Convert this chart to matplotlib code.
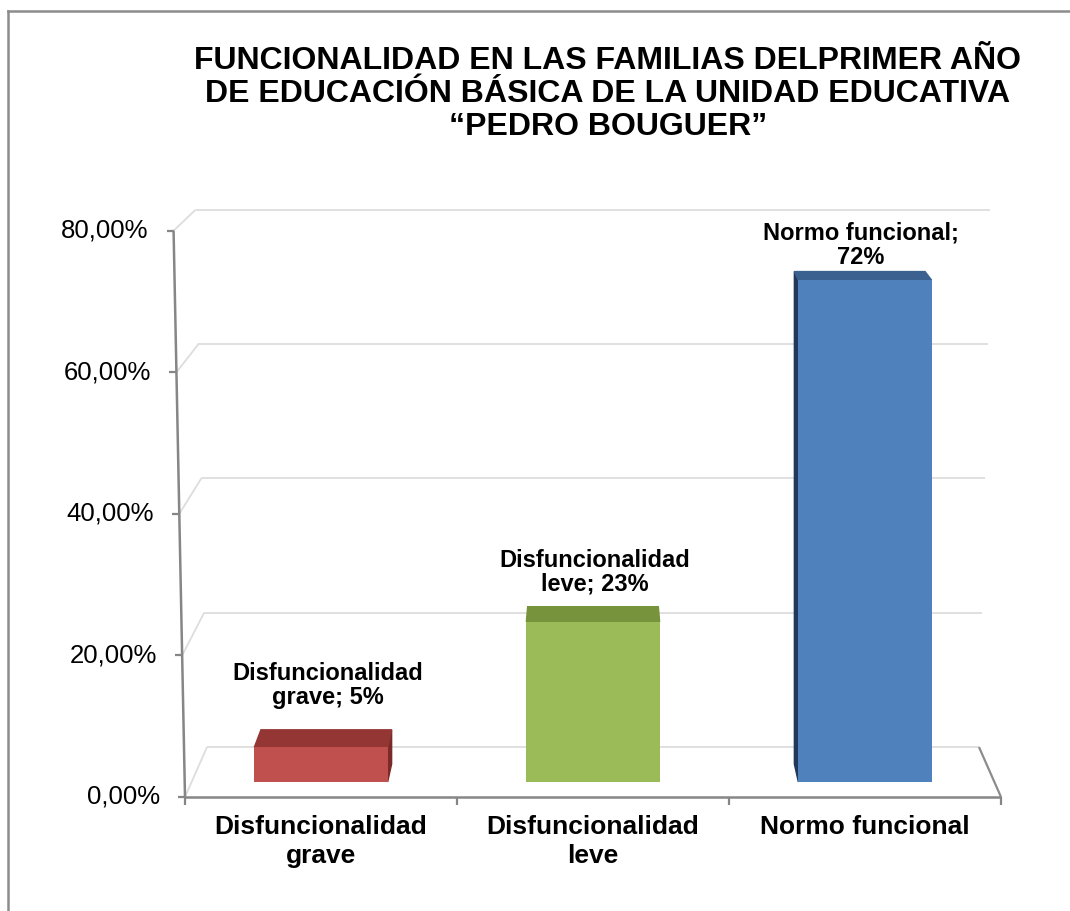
import matplotlib.pyplot as plt
from matplotlib.patches import Polygon
from matplotlib.lines import Line2D

plt.rcParams['font.family'] = ['Liberation Sans', 'DejaVu Sans']

# datos
categorias = ['Disfuncionalidad\ngrave', 'Disfuncionalidad\nleve', 'Normo funcional']
etiquetas = ['Disfuncionalidad\ngrave; 5%', 'Disfuncionalidad\nleve; 23%', 'Normo funcional;\n72%']
valores = [0.05, 0.23, 0.72]
ticks = [0.0, 0.2, 0.4, 0.6, 0.8]
tick_labels = ['0,00%', '20,00%', '40,00%', '60,00%', '80,00%']

colores = ['#C0504D', '#9BBB59', '#4F81BD']
colores_top = ['#943634', '#77933C', '#3B6190']
colores_lado = ['#7A2B29', '#5E7530', '#22385A']
label_dy = [15, 8, 2]   # desplazamiento de las etiquetas (pt)

titulo = ('FUNCIONALIDAD EN LAS FAMILIAS DELPRIMER AÑO\n'
          'DE EDUCACIÓN BÁSICA DE LA UNIDAD EDUCATIVA\n'
          '\u201cPEDRO BOUGUER\u201d')

W, H = 1070, 911
fig = plt.figure(figsize=(W / 100, H / 100), dpi=100)

# marco del gráfico (solo arriba e izquierda visibles)
fig.lines.append(Line2D([8 / W, 8 / W], [0, 1 - 11 / H], transform=fig.transFigure,
                        color='#8C8C8C', lw=1.8))
fig.lines.append(Line2D([8 / W, 1], [1 - 11 / H, 1 - 11 / H], transform=fig.transFigure,
                        color='#8C8C8C', lw=1.8))

ax = fig.add_axes([185 / W, (H - 782) / H, 816 / W, 0.8 * 697 / H])
ax.set_xlim(-0.5, 2.5)
ax.set_ylim(0, 0.8)
ax.axis('off')


# proyección pseudo 3D: d = profundidad (-0.3 frente, 0.7 fondo)
def proj(x, v, d):
    y = 0.0717 * d + v * (1 - 0.052 * d)
    h = 1 - 0.054 * (d + 0.3) + 0.035 * v
    return 1 + (x - 1) * h, y


def linea(p, q, **kw):
    ax.plot([p[0], q[0]], [p[1], q[1]], clip_on=False, solid_capstyle='butt', **kw)


grid_c = '#DDDDDD'
# paredes: rejilla
for t in ticks:
    linea(proj(-0.5, t, -0.3), proj(-0.5, t, 0.7), color=grid_c, lw=1.3, zorder=1)
    linea(proj(-0.5, t, 0.7), proj(2.5, t, 0.7), color=grid_c, lw=1.3, zorder=1)
# piso
linea(proj(2.5, 0, -0.3), proj(2.5, 0, 0.7), color='#8C8C8C', lw=1.6, zorder=1)

# barras
x = list(range(len(valores)))
ancho = 0.49
bars = ax.bar(x, valores, width=ancho, color=colores, zorder=4, clip_on=False)
d_back = 0.36
for i, v in enumerate(valores):
    xl, xr = i - ancho / 2, i + ancho / 2
    def back(xx, vv):
        a = proj(xx, vv, d_back)
        b = proj(xx, vv, 0)
        return xx + a[0] - b[0], vv + a[1] - b[1]
    top = [(xl, v), (xr, v), back(xr, v), back(xl, v)]
    ax.add_patch(Polygon(top, closed=True, color=colores_top[i], zorder=3, clip_on=False))
    if back(xr, v)[0] - xr > 0.004:
        lado = [(xr, 0), (xr, v), back(xr, v), back(xr, 0)]
        ax.add_patch(Polygon(lado, closed=True, color=colores_lado[i], zorder=2, clip_on=False))
    if back(xl, v)[0] - xl < -0.004:
        lado = [(xl, 0), (xl, v), back(xl, v), back(xl, 0)]
        ax.add_patch(Polygon(lado, closed=True, color=colores_lado[i], zorder=2, clip_on=False))
    ax.annotate(etiquetas[i], back(i, v), xytext=(1, label_dy[i]), textcoords='offset points',
                ha='center', va='bottom', fontsize=17, fontweight='bold',
                linespacing=1.05, zorder=6, annotation_clip=False)

# ejes
eje_c = '#868686'
linea(proj(-0.5, 0, -0.3), proj(-0.5, 0.8, -0.3), color=eje_c, lw=1.8, zorder=5)
linea(proj(-0.5, 0, -0.3), proj(2.5, 0, -0.3), color=eje_c, lw=1.8, zorder=5)
for t, lab in zip(ticks, tick_labels):
    p = proj(-0.5, t, -0.3)
    linea((p[0] - 0.026, p[1]), p, color=eje_c, lw=1.6, zorder=5)
    ax.annotate(lab, p, xytext=(-18, 0), textcoords='offset points', ha='right', va='center',
                fontsize=18.5, annotation_clip=False)
for b in [-0.5, 0.5, 1.5, 2.5]:
    p = proj(b, 0, -0.3)
    linea(p, (p[0], p[1] - 0.0115), color=eje_c, lw=1.6, zorder=5)

y_piso = proj(0, 0, -0.3)[1]
for i, c in enumerate(categorias):
    ax.annotate(c, (i, y_piso), xytext=(0, -13), textcoords='offset points', ha='center', va='top',
                fontsize=19, fontweight='bold', linespacing=1.25, annotation_clip=False)

fig.text(608 / W, 1 - 46 / H, titulo, ha='center', va='top', fontsize=23, fontweight='bold',
         linespacing=1.13)

fig.savefig('out.png', dpi=100)
